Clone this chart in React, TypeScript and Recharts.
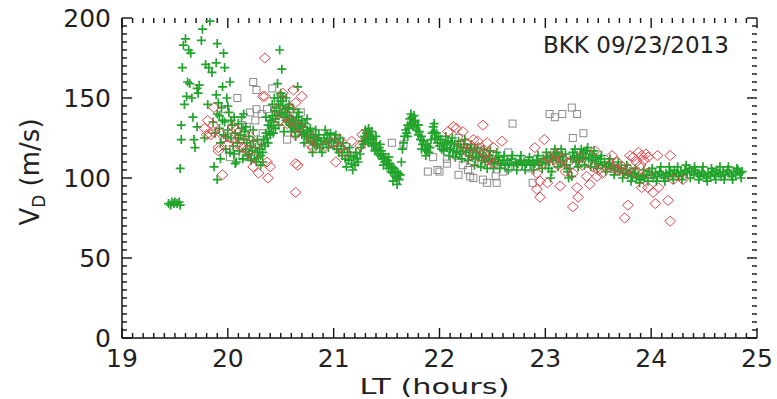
import { ScatterChart, Scatter, XAxis, YAxis, ReferenceLine } from 'recharts';

// green: drift speed from the main instrument, LT hours vs m/s
const green: [number, number][] = [
  [19.44, 84], [19.46, 83], [19.47, 85], [19.49, 84], [19.5, 85], [19.52, 84], [19.54, 85], [19.55, 83],
  [19.55, 106], [19.56, 124], [19.56, 133], [19.57, 169], [19.58, 183], [19.59, 146], [19.6, 187], [19.61, 151],
  [19.62, 160], [19.63, 180], [19.64, 159], [19.65, 178], [19.66, 150], [19.67, 138], [19.68, 124], [19.69, 119],
  [19.71, 132], [19.71, 156], [19.72, 153], [19.73, 158], [19.75, 186], [19.76, 193], [19.78, 125], [19.79, 171],
  [19.81, 146], [19.82, 169], [19.83, 198], [19.85, 166], [19.86, 135], [19.87, 107], [19.89, 152], [19.89, 172],
  [19.9, 99], [19.9, 184], [19.91, 147], [19.95, 136], [19.95, 157], [19.96, 178], [19.97, 169], [19.99, 150],
  [20.02, 160], [20.02, 116], [20.07, 109], [20.08, 110], [20.47, 159], [20.49, 180], [20.51, 168], [20.66, 157],
  [19.88, 128], [19.9, 140], [19.92, 131], [19.92, 139], [19.93, 122], [19.93, 112], [19.94, 144], [19.96, 127],
  [19.97, 135], [19.98, 118], [19.98, 126], [20.0, 130], [20.0, 145], [20.01, 141], [20.03, 125], [20.03, 136],
  [20.04, 133], [20.05, 120], [20.06, 138], [20.06, 115], [20.07, 128], [20.09, 122], [20.1, 134], [20.1, 125],
  [20.11, 117], [20.12, 127], [20.13, 131], [20.13, 138], [20.14, 112], [20.15, 124], [20.15, 140], [20.16, 129],
  [20.17, 118], [20.17, 132], [20.18, 122], [20.19, 114], [20.2, 126], [20.2, 115], [20.21, 120], [20.22, 111],
  [20.23, 117], [20.24, 123], [20.24, 130], [20.25, 112], [20.26, 119], [20.27, 110], [20.28, 116], [20.28, 124],
  [20.29, 113], [20.3, 118], [20.31, 114], [20.31, 108], [20.32, 121], [20.33, 116], [20.33, 110], [20.34, 124],
  [20.35, 120], [20.36, 128], [20.36, 138], [20.37, 125], [20.38, 133], [20.38, 122], [20.39, 129], [20.4, 136],
  [20.4, 127], [20.41, 132], [20.42, 139], [20.42, 146], [20.43, 135], [20.43, 128], [20.44, 142], [20.44, 150],
  [20.45, 137], [20.45, 131], [20.46, 144], [20.47, 139], [20.47, 150], [20.48, 146], [20.48, 133], [20.49, 141],
  [20.5, 148], [20.5, 153], [20.51, 140], [20.52, 145], [20.52, 151], [20.53, 138], [20.53, 129], [20.54, 143],
  [20.55, 136], [20.55, 150], [20.56, 141], [20.57, 135], [20.57, 144], [20.58, 139], [20.58, 146], [20.59, 133],
  [20.6, 137], [20.6, 129], [20.61, 132], [20.62, 136], [20.62, 143], [20.63, 130], [20.64, 134], [20.64, 126],
  [20.65, 138], [20.66, 131], [20.67, 135], [20.67, 141], [20.68, 129], [20.69, 133], [20.7, 127], [20.7, 136],
  [20.71, 132], [20.72, 128], [20.72, 122], [20.73, 134], [20.74, 126], [20.75, 130], [20.75, 137], [20.76, 125],
  [20.77, 129], [20.78, 123], [20.78, 131], [20.79, 127], [20.8, 122], [20.8, 116], [20.81, 126], [20.82, 121],
  [20.83, 125], [20.83, 130], [20.84, 120], [20.85, 124], [20.86, 127], [20.87, 119], [20.88, 123], [20.89, 116],
  [20.9, 121], [20.91, 125], [20.92, 130], [20.93, 122], [20.94, 127], [20.95, 119], [20.96, 124], [20.97, 128],
  [20.98, 123], [21.0, 120], [21.01, 124], [21.02, 127], [21.03, 118], [21.04, 122], [21.05, 116], [21.06, 125],
  [21.07, 120], [21.08, 114], [21.09, 122], [21.1, 118], [21.11, 112], [21.12, 107], [21.13, 116], [21.14, 111],
  [21.15, 119], [21.16, 114], [21.17, 109], [21.18, 105], [21.19, 113], [21.2, 108], [21.21, 116], [21.22, 112],
  [21.23, 110], [21.25, 115], [21.26, 119], [21.27, 123], [21.28, 121], [21.29, 126], [21.3, 124], [21.3, 130],
  [21.31, 128], [21.32, 125], [21.33, 122], [21.33, 131], [21.34, 127], [21.35, 124], [21.36, 120], [21.36, 129],
  [21.37, 125], [21.38, 121], [21.39, 117], [21.4, 122], [21.4, 126], [21.41, 118], [21.42, 115], [21.43, 119],
  [21.44, 114], [21.44, 121], [21.45, 117], [21.46, 112], [21.47, 115], [21.47, 108], [21.48, 110], [21.49, 113],
  [21.5, 108], [21.51, 111], [21.52, 106], [21.52, 113], [21.53, 109], [21.54, 104], [21.55, 107], [21.56, 103],
  [21.56, 98], [21.57, 106], [21.58, 101], [21.59, 104], [21.6, 100], [21.6, 96], [21.61, 103], [21.62, 99],
  [21.63, 102], [21.64, 110], [21.65, 118], [21.66, 122], [21.67, 126], [21.68, 130], [21.69, 128], [21.7, 133],
  [21.7, 126], [21.71, 131], [21.72, 137], [21.73, 134], [21.73, 140], [21.74, 138], [21.75, 135], [21.76, 132],
  [21.76, 139], [21.77, 136], [21.78, 130], [21.79, 133], [21.8, 127], [21.8, 133], [21.81, 129], [21.82, 124],
  [21.83, 126], [21.83, 118], [21.84, 121], [21.85, 123], [21.86, 118], [21.87, 121], [21.87, 114], [21.88, 117],
  [21.89, 120], [21.9, 116], [21.91, 119], [21.92, 124], [21.93, 128], [21.94, 132], [21.95, 129], [21.95, 134],
  [21.96, 125], [21.97, 128], [21.98, 122], [21.99, 126], [22.0, 120], [22.01, 124], [22.02, 118], [22.03, 122],
  [22.04, 117], [22.05, 121], [22.06, 126], [22.07, 119], [22.08, 123], [22.09, 114], [22.1, 118], [22.11, 122],
  [22.12, 125], [22.13, 117], [22.14, 121], [22.15, 113], [22.16, 116], [22.17, 120], [22.18, 123], [22.19, 115],
  [22.2, 119], [22.21, 112], [22.22, 117], [22.23, 121], [22.24, 124], [22.25, 116], [22.26, 119], [22.27, 111],
  [22.28, 114], [22.29, 118], [22.3, 121], [22.31, 113], [22.32, 117], [22.33, 108], [22.34, 112], [22.35, 116],
  [22.36, 119], [22.37, 113], [22.38, 115], [22.39, 107], [22.4, 111], [22.41, 114], [22.42, 118], [22.43, 110],
  [22.44, 113], [22.45, 106], [22.46, 111], [22.47, 114], [22.48, 117], [22.49, 110], [22.5, 112], [22.51, 106],
  [22.52, 109], [22.53, 112], [22.54, 116], [22.55, 110], [22.56, 113], [22.57, 106], [22.58, 109], [22.6, 111],
  [22.61, 114], [22.62, 108], [22.64, 111], [22.65, 105], [22.66, 109], [22.68, 112], [22.69, 114], [22.7, 108],
  [22.72, 110], [22.73, 105], [22.74, 109], [22.76, 111], [22.77, 114], [22.78, 108], [22.8, 110], [22.81, 105],
  [22.82, 109], [22.84, 111], [22.85, 113], [22.86, 108], [22.88, 110], [22.89, 105], [22.9, 109], [22.92, 111],
  [22.93, 114], [22.94, 108], [22.96, 110], [22.97, 106], [22.98, 112], [23.0, 109], [23.01, 116], [23.02, 113],
  [23.03, 106], [23.04, 110], [23.05, 114], [23.05, 100], [23.06, 104], [23.07, 111], [23.08, 115], [23.09, 118],
  [23.1, 112], [23.11, 116], [23.12, 107], [23.13, 113], [23.14, 110], [23.15, 118], [23.16, 114], [23.17, 111],
  [23.18, 108], [23.19, 115], [23.2, 108], [23.21, 104], [23.22, 100], [23.23, 106], [23.24, 112], [23.25, 101],
  [23.26, 116], [23.27, 113], [23.28, 118], [23.29, 110], [23.3, 114], [23.31, 107], [23.32, 111], [23.33, 115],
  [23.34, 118], [23.35, 112], [23.36, 116], [23.37, 108], [23.38, 113], [23.39, 117], [23.4, 119], [23.41, 112],
  [23.42, 115], [23.43, 107], [23.44, 111], [23.45, 114], [23.46, 117], [23.47, 110], [23.48, 113], [23.49, 106],
  [23.5, 109], [23.52, 112], [23.53, 114], [23.54, 108], [23.56, 110], [23.57, 104], [23.58, 107], [23.6, 109],
  [23.61, 112], [23.62, 106], [23.64, 108], [23.65, 102], [23.66, 105], [23.68, 107], [23.69, 110], [23.7, 104],
  [23.72, 106], [23.73, 100], [23.74, 103], [23.76, 105], [23.77, 108], [23.78, 102], [23.8, 104], [23.81, 98],
  [23.82, 101], [23.84, 103], [23.85, 106], [23.86, 100], [23.88, 102], [23.89, 97], [23.9, 99], [23.92, 101],
  [23.93, 105], [23.94, 100], [23.96, 102], [23.97, 98], [23.98, 104], [24.0, 102], [24.01, 106], [24.02, 100],
  [24.04, 103], [24.05, 98], [24.06, 101], [24.08, 104], [24.09, 107], [24.1, 102], [24.12, 100], [24.13, 98],
  [24.14, 103], [24.16, 101], [24.17, 107], [24.18, 104], [24.2, 102], [24.21, 99], [24.22, 105], [24.24, 103],
  [24.25, 107], [24.26, 101], [24.28, 104], [24.29, 99], [24.3, 102], [24.32, 105], [24.33, 108], [24.34, 103],
  [24.36, 106], [24.37, 100], [24.38, 104], [24.4, 102], [24.41, 107], [24.42, 105], [24.44, 103], [24.45, 99],
  [24.46, 101], [24.48, 104], [24.49, 107], [24.5, 102], [24.52, 100], [24.53, 98], [24.54, 103], [24.56, 101],
  [24.57, 106], [24.58, 104], [24.6, 102], [24.61, 99], [24.62, 105], [24.64, 103], [24.65, 107], [24.66, 101],
  [24.68, 104], [24.69, 99], [24.7, 102], [24.72, 105], [24.73, 107], [24.74, 103], [24.76, 101], [24.77, 99],
  [24.78, 104], [24.8, 102], [24.81, 106], [24.82, 105], [24.84, 103], [24.85, 100], [24.86, 104],
];

// red diamonds
const red: [number, number][] = [
  [19.78, 131], [19.8, 127], [19.81, 136], [19.84, 127], [19.86, 129], [19.86, 133], [19.87, 144], [19.91, 117],
  [19.91, 119], [19.93, 128], [19.95, 102], [20.0, 121], [20.02, 125], [20.05, 132], [20.08, 130], [20.09, 121],
  [20.12, 124], [20.14, 119], [20.18, 118], [20.21, 126], [20.24, 107], [20.24, 113], [20.27, 121], [20.29, 103],
  [20.33, 151], [20.35, 151], [20.35, 175], [20.37, 110], [20.38, 100], [20.4, 107], [20.46, 143], [20.49, 136],
  [20.52, 153], [20.56, 134], [20.59, 143], [20.6, 136], [20.62, 155], [20.64, 91], [20.64, 109], [20.66, 108],
  [20.64, 127], [20.64, 147], [20.68, 132], [20.7, 151], [20.78, 121], [20.79, 125], [20.8, 119], [20.92, 120],
  [20.99, 122], [21.02, 110], [21.06, 119], [21.06, 124], [21.11, 116], [21.17, 123], [21.25, 120], [21.27, 127],
  [22.08, 129], [22.13, 132], [22.16, 131], [22.2, 121], [22.22, 129], [22.25, 122], [22.27, 116], [22.3, 119],
  [22.32, 110], [22.32, 124], [22.36, 123], [22.37, 119], [22.4, 117], [22.41, 133], [22.42, 115], [22.45, 111],
  [22.45, 122], [22.48, 112], [22.51, 109], [22.51, 119], [22.59, 123], [22.9, 119], [22.92, 93], [22.92, 103],
  [22.95, 88], [22.95, 98], [22.98, 109], [22.99, 124], [23.02, 97], [23.03, 113], [23.09, 111], [23.1, 115],
  [23.12, 108], [23.14, 95], [23.17, 112], [23.19, 104], [23.22, 110], [23.26, 103], [23.26, 82], [23.3, 94],
  [23.31, 88], [23.33, 113], [23.35, 108], [23.39, 101], [23.42, 96], [23.45, 107], [23.47, 117], [23.49, 101],
  [23.5, 105], [23.54, 103], [23.6, 108], [23.63, 114], [23.65, 106], [23.68, 110], [23.7, 105], [23.73, 107],
  [23.75, 104], [23.75, 75], [23.78, 83], [23.78, 106], [23.8, 114], [23.83, 113], [23.85, 103], [23.86, 110],
  [23.88, 116], [23.9, 108], [23.91, 114], [23.91, 94], [23.93, 111], [23.95, 115], [23.96, 103], [23.97, 94],
  [23.97, 113], [24.02, 91], [24.04, 84], [24.06, 114], [24.07, 94], [24.16, 86], [24.18, 114], [24.18, 73],
  [24.21, 99], [24.3, 99],
];

// grey squares
const grey: [number, number][] = [
  [19.97, 125], [19.97, 143], [20.02, 113], [20.09, 150], [20.13, 133], [20.14, 114], [20.18, 113], [20.18, 132],
  [20.21, 141], [20.24, 160], [20.26, 136], [20.27, 143], [20.27, 155], [20.32, 140], [20.33, 128], [20.37, 143],
  [20.42, 156], [20.56, 124], [20.69, 141], [21.32, 128], [21.36, 127], [21.55, 122], [21.66, 121], [21.89, 104],
  [21.94, 113], [21.98, 105], [22.0, 104], [22.07, 109], [22.07, 112], [22.16, 114], [22.18, 102], [22.18, 125],
  [22.22, 108], [22.27, 105], [22.29, 101], [22.32, 100], [22.41, 99], [22.45, 97], [22.53, 101], [22.54, 97],
  [22.6, 104], [22.65, 106], [22.65, 116], [22.69, 134], [22.84, 106], [22.88, 97], [23.04, 140], [23.09, 138],
  [23.16, 140], [23.25, 144], [23.3, 140], [23.26, 125], [23.36, 128],
];

const xTicks = Array.from({ length: 61 }, (_, i) => Math.round(190 + i) / 10);
const yTicks = Array.from({ length: 41 }, (_, i) => i * 5);
const X_MIN = 19;
const X_MAX = 25;
const Y_MIN = 0;
const Y_MAX = 200;

const toPts = (arr: [number, number][]) => arr.map(([lt, vd]) => ({ lt, vd }));

const FONT = '"DejaVu Sans", sans-serif';
const AXIS = '#111';

// tick lengths expressed in axis units (plot is 635 x 320 px)
const PX_X = (X_MAX - X_MIN) / 635;
const PX_Y = (Y_MAX - Y_MIN) / 320;

const isMajorX = (v: number) => Math.abs(v - Math.round(v)) < 1e-6;
const isMajorY = (v: number) => v % 50 === 0;

const BottomLabel = ({ x, y, payload }: any) =>
  isMajorX(payload.value) ? (
    <text x={x} y={y + 29} textAnchor="middle" fontSize={25} fontFamily={FONT} fill="#222">
      {payload.value}
    </text>
  ) : (
    <g />
  );

const LeftLabel = ({ x, y, payload }: any) =>
  isMajorY(payload.value) ? (
    <text x={x - 11} y={y + 9} textAnchor="end" fontSize={25} fontFamily={FONT} fill="#222">
      {payload.value}
    </text>
  ) : (
    <g />
  );

const XTitle = ({ viewBox }: any) => (
  <text
    x={viewBox.x + viewBox.width / 2 - 5}
    y={viewBox.y + 55.5}
    textAnchor="middle"
    fontSize={22}
    fontFamily={FONT}
    fill="#222"
    textLength={150}
    lengthAdjust="spacingAndGlyphs"
  >
    LT (hours)
  </text>
);

const YTitle = () => (
  <text
    transform="rotate(-90 39 172)"
    x={39}
    y={172}
    textAnchor="middle"
    fontSize={26}
    fontFamily={FONT}
    fill="#222"
  >
    V
    <tspan fontSize={17} dy={6}>D</tspan>
    <tspan dy={-6}> (m/s)</tspan>
  </text>
);

const Plus = ({ cx, cy }: any) => (
  <path d={`M${cx - 4.5},${cy}h9M${cx},${cy - 4.5}v9`} stroke="#22a32c" strokeWidth={1.7} fill="none" />
);

const Diamond = ({ cx, cy }: any) => (
  <path
    d={`M${cx},${cy - 5}L${cx + 5.5},${cy}L${cx},${cy + 5}L${cx - 5.5},${cy}Z`}
    stroke="#e0474c"
    strokeWidth={1}
    fill="none"
  />
);

const Square = ({ cx, cy }: any) => (
  <rect x={cx - 3.5} y={cy - 3.5} width={7} height={7} stroke="#8c8c8c" strokeWidth={1} fill="none" />
);

const tickLine = (key: string, a: { x: number; y: number }, b: { x: number; y: number }) => (
  <ReferenceLine
    key={key}
    xAxisId="b"
    yAxisId="l"
    segment={[a, b]}
    stroke={AXIS}
    strokeWidth={1.4}
    ifOverflow="visible"
  />
);

export default function App() {
  const ticks = [
    ...xTicks.flatMap((v) => {
      const len = (isMajorX(v) ? 10 : 5) * PX_Y;
      return [
        tickLine(`xb${v}`, { x: v, y: Y_MIN }, { x: v, y: Y_MIN + len }),
        tickLine(`xt${v}`, { x: v, y: Y_MAX }, { x: v, y: Y_MAX - len }),
      ];
    }),
    ...yTicks.flatMap((v) => {
      const len = (isMajorY(v) ? 10 : 5) * PX_X;
      return [
        tickLine(`yl${v}`, { x: X_MIN, y: v }, { x: X_MIN + len, y: v }),
        tickLine(`yr${v}`, { x: X_MAX, y: v }, { x: X_MAX - len, y: v }),
      ];
    }),
  ];

  return (
    <div style={{ position: 'absolute', left: 0, top: 0, background: '#fff' }}>
      <ScatterChart width={777} height={399} margin={{ top: 18, right: 20, bottom: 0, left: 0 }}>
        <XAxis
          xAxisId="b"
          type="number"
          dataKey="lt"
          domain={[X_MIN, X_MAX]}
          ticks={xTicks}
          interval={0}
          tickSize={0}
          tickMargin={0}
          tickLine={false}
          tick={BottomLabel}
          height={61}
          axisLine={{ stroke: AXIS, strokeWidth: 1.5 }}
          allowDataOverflow
          label={<XTitle />}
        />
        <XAxis
          xAxisId="t"
          orientation="top"
          type="number"
          domain={[X_MIN, X_MAX]}
          tick={false}
          tickLine={false}
          height={0}
          axisLine={{ stroke: AXIS, strokeWidth: 1.5 }}
          allowDataOverflow
        />
        <YAxis
          yAxisId="l"
          type="number"
          dataKey="vd"
          domain={[Y_MIN, Y_MAX]}
          ticks={yTicks}
          interval={0}
          tickSize={0}
          tickMargin={0}
          tickLine={false}
          tick={LeftLabel}
          width={122}
          axisLine={{ stroke: AXIS, strokeWidth: 1.5 }}
          allowDataOverflow
          label={<YTitle />}
        />
        <YAxis
          yAxisId="r"
          orientation="right"
          type="number"
          domain={[Y_MIN, Y_MAX]}
          tick={false}
          tickLine={false}
          width={0}
          axisLine={{ stroke: AXIS, strokeWidth: 1.5 }}
          allowDataOverflow
        />
        {ticks}
        <Scatter xAxisId="b" yAxisId="l" data={toPts(grey)} shape={Square} isAnimationActive={false} />
        <Scatter xAxisId="b" yAxisId="l" data={toPts(green)} shape={Plus} isAnimationActive={false} />
        <Scatter xAxisId="b" yAxisId="l" data={toPts(red)} shape={Diamond} isAnimationActive={false} />
        <text x={543} y={53} fontSize={23} fontFamily={FONT} fill="#222">
          BKK 09/23/2013
        </text>
      </ScatterChart>
    </div>
  );
}
